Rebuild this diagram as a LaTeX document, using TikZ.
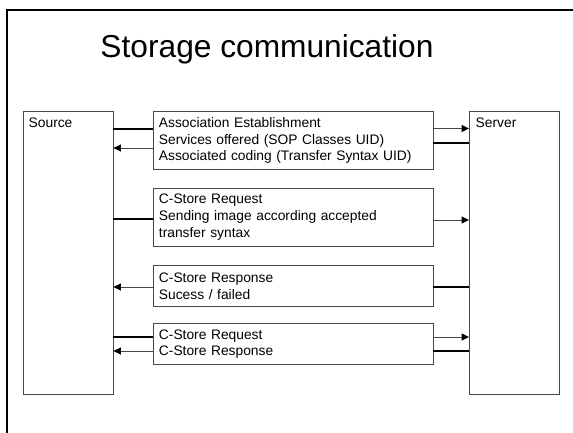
\documentclass[tikz,border=0pt]{standalone}
\usepackage{fontspec}
\setmainfont{Liberation Sans}
\usetikzlibrary{arrows.meta}
\definecolor{edgegray}{RGB}{70,70,70}
\tikzset{
  x=1pt, y=1pt,
  txt/.style={font=\fontsize{13.8}{16.6}\selectfont},
  actor/.style={draw=edgegray, line width=0.9pt, rectangle, minimum width=90pt, minimum height=283pt, anchor=north west, inner sep=0pt},
  msgbox/.style={draw=edgegray, line width=0.9pt, rectangle, anchor=north west, txt, align=left, text width=268pt, inner xsep=6pt, inner ysep=0pt},
  thickline/.style={draw=black, line width=2pt},
  thinarrow/.style={draw=edgegray, line width=1pt, -{Triangle[length=7.5pt,width=7pt,color=black]}},
  frame/.style={draw=black, line width=2.4pt}
}
\begin{document}
\begin{tikzpicture}
\useasboundingbox (0,0) rectangle (573,432);
% outer frame
\coordinate (fbl) at (7.2,-3);
\coordinate (ftl) at (7.2,422);
\coordinate (ftr) at (576,422);
\draw[frame] (fbl) -- (ftl) -- (ftr);
% title
\node[anchor=base, font=\fontsize{31.7}{36}\selectfont, inner sep=0pt] (title) at (267,374) {Storage communication};
% actors
\node[actor] (src) at (22.5,321) {};
\node[txt, anchor=base west, inner sep=0pt] (srclbl) at (28.5,305) {Source};
\node[actor] (srv) at (469,321) {};
\node[txt, anchor=base west, inner sep=0pt] (srvlbl) at (475.5,305) {Server};
% message boxes
\node[msgbox, minimum height=58pt] (b1) at (152.5,321) {Association Establishment\\Services offered (SOP Classes UID)\\Associated coding (Transfer Syntax UID)};
\node[msgbox, minimum height=58.5pt] (b2) at (152.5,244.5) {C-Store Request\\Sending image according accepted\\transfer syntax};
\node[msgbox, minimum height=41pt] (b3) at (152.5,167) {C-Store Response\\Sucess / failed};
\node[msgbox, minimum height=41pt] (b4) at (152.5,109) {C-Store Request\\C-Store Response};
% box 1
\draw[thickline] (src.east |- 0,303) -- (b1.west |- 0,303);
\draw[thinarrow] (b1.west |- 0,284) -- (src.east |- 0,284);
\draw[thinarrow] (b1.east |- 0,303.5) -- (srv.west |- 0,303.5);
\draw[thickline] (srv.west |- 0,289) -- (b1.east |- 0,289);
% box 2
\draw[thickline] (src.east |- 0,213) -- (b2.west |- 0,213);
\draw[thinarrow] (b2.east |- 0,212) -- (srv.west |- 0,212);
% box 3
\draw[thinarrow] (b3.west |- 0,145) -- (src.east |- 0,145);
\draw[thickline] (srv.west |- 0,145) -- (b3.east |- 0,145);
% box 4
\draw[thickline] (src.east |- 0,95) -- (b4.west |- 0,95);
\draw[thinarrow] (b4.west |- 0,81) -- (src.east |- 0,81);
\draw[thinarrow] (b4.east |- 0,95) -- (srv.west |- 0,95);
\draw[thickline] (srv.west |- 0,81) -- (b4.east |- 0,81);
\end{tikzpicture}
\end{document}
